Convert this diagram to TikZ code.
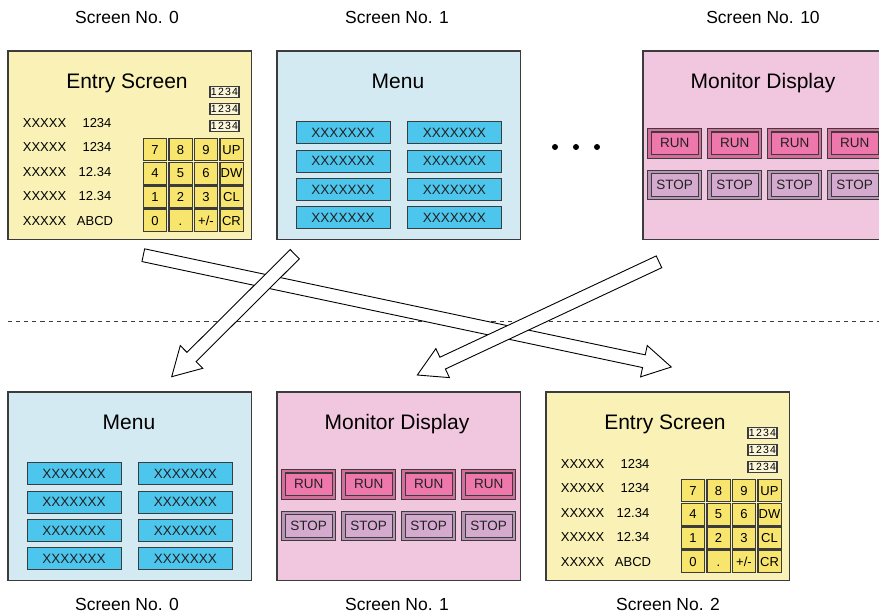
\documentclass[tikz,border=0pt]{standalone}
\usepackage{fontspec}
\setmainfont{Liberation Sans}
\newfontfamily\spacedfont[LetterSpace=12]{Liberation Sans}
\usetikzlibrary{calc}
\definecolor{bordergray}{HTML}{3C3C3C}
\definecolor{entryfill}{HTML}{F9F1B6}
\definecolor{keyfill}{HTML}{F8E56E}
\definecolor{smallfill}{HTML}{FBF6DA}
\definecolor{menufill}{HTML}{D4EAF3}
\definecolor{menubtn}{HTML}{4DC6EE}
\definecolor{monfill}{HTML}{F1C6DF}
\definecolor{runfill}{HTML}{EE78AB}
\definecolor{rungap}{HTML}{D56C9C}
\definecolor{stopfill}{HTML}{D4AACE}
\definecolor{stopgap}{HTML}{B895B4}
\definecolor{textdark}{HTML}{222222}

\tikzset{
 screenbox/.style={draw=bordergray, line width=1.1pt, anchor=north west, minimum width=243.5pt, minimum height=188.5pt, inner sep=0pt, outer sep=0pt},
 titletext/.style={inner sep=0pt, anchor=base, font=\fontsize{21}{25}\selectfont, text=black},
 headtext/.style={inner sep=0pt, font=\fontsize{17.5}{20}\selectfont},
 fieldtext/.style={inner sep=0pt, font=\fontsize{13}{15}\selectfont},
 smallbox/.style={draw=bordergray, line width=1.1pt, fill=smallfill, minimum width=29pt, minimum height=11.5pt, inner sep=0pt, text height=7.5pt, text depth=0pt, font=\spacedfont\fontsize{10.5}{11}\selectfont},
 keybox/.style={draw=bordergray, line width=1.3pt, fill=keyfill, minimum width=23.3pt, minimum height=22pt, inner sep=0pt, text height=9.3pt, text depth=0pt, font=\fontsize{13}{15}\selectfont},
 menubox/.style={draw=bordergray, line width=1pt, fill=menubtn, minimum width=94pt, minimum height=22pt, inner sep=0pt, font=\fontsize{13.5}{15}\selectfont, text=textdark},
 btnouter/.style={draw=bordergray, line width=0.8pt, minimum width=54pt, minimum height=29.6pt, inner sep=0pt},
 btninner/.style={draw=bordergray, line width=1.3pt, minimum width=47pt, minimum height=22.6pt, inner sep=0pt, font=\fontsize{13.5}{15}\selectfont, text=textdark},
 blockarrowstyle/.style={draw=black, fill=white, line width=0.9pt, line join=miter},
 sepline/.style={draw=bordergray, line width=1pt, dash pattern=on 4.3pt off 3.9pt},
 dotmark/.style={circle, fill=black, minimum size=6pt, inner sep=0pt},
}

\newcommand\keyrow[7]{%
 \node[keybox] (#1-k#2a) at (147,#3) {#4};
 \node[keybox] (#1-k#2b) at (172.5,#3) {#5};
 \node[keybox] (#1-k#2c) at (198,#3) {#6};
 \node[keybox] (#1-k#2d) at (223.5,#3) {#7};}

\newcommand\entryscr[3]{%
 \node[screenbox, fill=entryfill] (#1) at (#2,#3) {};
 \begin{scope}[shift={(#2,#3)}]
  \node[titletext] (#1-title) at (119,37.3) {Entry Screen};
  \node[smallbox] (#1-s1) at (216.5,41) {1234};
  \node[smallbox] (#1-s2) at (216.5,58) {1234};
  \node[smallbox] (#1-s3) at (216.5,75) {1234};
  \node[fieldtext, anchor=west] (#1-l1) at (14.7,72) {XXXXX};
  \node[fieldtext, anchor=west] (#1-l2) at (14.7,96.5) {XXXXX};
  \node[fieldtext, anchor=west] (#1-l3) at (14.7,121) {XXXXX};
  \node[fieldtext, anchor=west] (#1-l4) at (14.7,145.5) {XXXXX};
  \node[fieldtext, anchor=west] (#1-l5) at (14.7,170) {XXXXX};
  \node[fieldtext] (#1-v1) at (89,72) {1234};
  \node[fieldtext] (#1-v2) at (89,96.5) {1234};
  \node[fieldtext] (#1-v3) at (87,121) {12.34};
  \node[fieldtext] (#1-v4) at (87,145.5) {12.34};
  \node[fieldtext] (#1-v5) at (87,170) {ABCD};
  \keyrow{#1}{1}{98.5}{7}{8}{9}{UP}
  \keyrow{#1}{2}{122.2}{4}{5}{6}{DW}
  \keyrow{#1}{3}{145.9}{1}{2}{3}{CL}
  \keyrow{#1}{4}{169.6}{0}{.}{+/-}{CR}
 \end{scope}}

\newcommand\menuscr[3]{%
 \node[screenbox, fill=menufill] (#1) at (#2,#3) {};
 \begin{scope}[shift={(#2,#3)}]
  \node[titletext] (#1-title) at (121,37.3) {Menu};
  \foreach \r/\yy in {1/81.8,2/110.2,3/138.5,4/166.8}{
   \node[menubox] (#1-a\r) at (66,\yy) {XXXXXXX};
   \node[menubox] (#1-b\r) at (177.3,\yy) {XXXXXXX};
  }
 \end{scope}}

\newcommand\monscr[3]{%
 \node[screenbox, fill=monfill] (#1) at (#2,#3) {};
 \begin{scope}[shift={(#2,#3)}]
  \node[titletext] (#1-title) at (120,37.5) {Monitor Display};
  \foreach \c/\xx in {1/31.7,2/91.7,3/151.7,4/211.7}{
   \node[btnouter, fill=rungap] (#1-ro\c) at (\xx,92.2) {};
   \node[btninner, fill=runfill] (#1-r\c) at (\xx,92.2) {RUN};
   \node[btnouter, fill=stopgap] (#1-so\c) at (\xx,134) {};
   \node[btninner, fill=stopfill] (#1-s\c) at (\xx,134) {STOP};
  }
 \end{scope}}

\newcommand\blockarrow[2]{%
 \coordinate (#1-base) at ($(#2)!28pt!(#1)$);
 \draw[blockarrowstyle]
  ($(#1)!6.5pt!90:(#2)$) --
  ($(#1-base)!6.5pt!-90:(#1)$) --
  ($(#1-base)!16pt!-90:(#1)$) --
  (#2) --
  ($(#1-base)!16pt!90:(#1)$) --
  ($(#1-base)!6.5pt!90:(#1)$) --
  ($(#1)!6.5pt!-90:(#2)$) -- cycle;}

\begin{document}
\begin{tikzpicture}[x=1pt, y=-1pt]
\useasboundingbox (0,0) rectangle (879,613);
\begin{scope}
\clip (0,0) rectangle (879,613);
% header labels
\node[headtext] (h0) at (127,17) {Screen No. 0};
\node[headtext] (h1) at (397,17) {Screen No. 1};
\node[headtext] (h10) at (763,17) {Screen No. 10};
\node[headtext] (f0) at (127,604) {Screen No. 0};
\node[headtext] (f1) at (397,604) {Screen No. 1};
\node[headtext] (f2) at (668,604) {Screen No. 2};
% top row
\entryscr{tE}{8}{51}
\menuscr{tM}{277}{51}
\monscr{tD}{643}{51}
\node[dotmark] (d1) at (555,147) {};
\node[dotmark] (d2) at (576,147) {};
\node[dotmark] (d3) at (597,147) {};
% bottom row
\menuscr{bM}{8}{392}
\monscr{bD}{277}{392}
\entryscr{bE}{546}{392}
% separator
\coordinate (sepL) at (7.5,321.7);
\coordinate (sepR) at (879,321.7);
\draw[sepline] (sepL) -- (sepR);
% arrows
\coordinate (a1s) at (143.3,255.2);
\coordinate (a1e) at (671.3,367);
\coordinate (a2s) at (294.8,254.2);
\coordinate (a2e) at (171.7,376.7);
\coordinate (a3s) at (659,261.8);
\coordinate (a3e) at (417.3,375);
\blockarrow{a1s}{a1e}
\blockarrow{a2s}{a2e}
\blockarrow{a3s}{a3e}
\end{scope}
\end{tikzpicture}
\end{document}
